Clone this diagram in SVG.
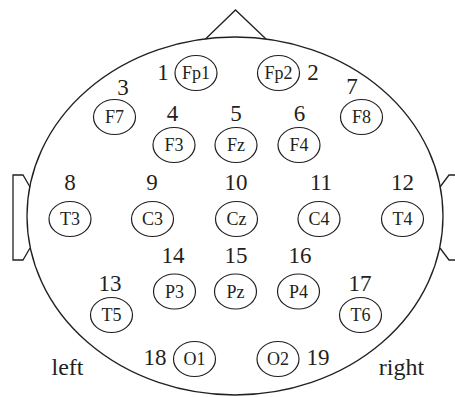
<svg xmlns="http://www.w3.org/2000/svg" width="455" height="397" viewBox="0 0 455 397">
<style>
.ln{fill:none;stroke:#231f20;stroke-width:1.3}
.el{fill:#fff;stroke:#231f20;stroke-width:1.2}
.lb{font-family:"Liberation Serif","Times New Roman",serif;font-size:18px;fill:#231f20;text-anchor:middle}
.nm{font-family:"Liberation Serif","Times New Roman",serif;font-size:23px;fill:#231f20;text-anchor:middle}
.sd{font-family:"Liberation Serif","Times New Roman",serif;font-size:24px;fill:#231f20;text-anchor:middle}
</style>
<rect width="455" height="397" fill="#fff"/>
<g id="head">
<ellipse class="ln" cx="235" cy="216" rx="208" ry="179"/>
<polyline class="ln" points="205.5,39 235.5,10 266,39"/>
<polyline class="ln" points="30,187 23,175 13,175 13,260 23,260 30,248"/>
<polyline class="ln" points="440,187 449,175 459,175 459,260 449,260 440,248"/>
</g>
<g id="Fp1"><ellipse class="el" cx="196" cy="73" rx="21" ry="17.5"/><text class="lb" x="196" y="79">Fp1</text><text class="nm" x="163" y="80">1</text></g>
<g id="Fp2"><ellipse class="el" cx="278.5" cy="73" rx="21" ry="17.5"/><text class="lb" x="278.5" y="79">Fp2</text><text class="nm" x="313" y="80">2</text></g>
<g id="F7"><ellipse class="el" cx="114.5" cy="117" rx="21" ry="17.5"/><text class="lb" x="114.5" y="123">F7</text><text class="nm" x="123" y="95">3</text></g>
<g id="F8"><ellipse class="el" cx="361.5" cy="117" rx="21" ry="17.5"/><text class="lb" x="361.5" y="123">F8</text><text class="nm" x="352" y="94">7</text></g>
<g id="F3"><ellipse class="el" cx="174" cy="145" rx="21" ry="17.5"/><text class="lb" x="174" y="151">F3</text><text class="nm" x="172.5" y="121">4</text></g>
<g id="Fz"><ellipse class="el" cx="236" cy="145" rx="21" ry="17.5"/><text class="lb" x="236" y="151">Fz</text><text class="nm" x="236" y="121">5</text></g>
<g id="F4"><ellipse class="el" cx="299" cy="145" rx="21" ry="17.5"/><text class="lb" x="299" y="151">F4</text><text class="nm" x="299.5" y="121">6</text></g>
<g id="T3"><ellipse class="el" cx="70" cy="219" rx="21" ry="17.5"/><text class="lb" x="70" y="225">T3</text><text class="nm" x="70" y="190">8</text></g>
<g id="C3"><ellipse class="el" cx="152.5" cy="219" rx="21" ry="17.5"/><text class="lb" x="152.5" y="225">C3</text><text class="nm" x="152" y="190">9</text></g>
<g id="Cz"><ellipse class="el" cx="236.5" cy="219" rx="21" ry="17.5"/><text class="lb" x="236.5" y="225">Cz</text><text class="nm" x="236" y="190">10</text></g>
<g id="C4"><ellipse class="el" cx="319" cy="219" rx="21" ry="17.5"/><text class="lb" x="319" y="225">C4</text><text class="nm" x="321" y="190">11</text></g>
<g id="T4"><ellipse class="el" cx="402.5" cy="219" rx="21" ry="17.5"/><text class="lb" x="402.5" y="225">T4</text><text class="nm" x="402.5" y="190">12</text></g>
<g id="P3"><ellipse class="el" cx="174.5" cy="291.5" rx="21" ry="17.5"/><text class="lb" x="174.5" y="297.5">P3</text><text class="nm" x="173" y="263">14</text></g>
<g id="Pz"><ellipse class="el" cx="235.5" cy="291.5" rx="21" ry="17.5"/><text class="lb" x="235.5" y="297.5">Pz</text><text class="nm" x="236" y="263">15</text></g>
<g id="P4"><ellipse class="el" cx="298.5" cy="291.5" rx="21" ry="17.5"/><text class="lb" x="298.5" y="297.5">P4</text><text class="nm" x="300" y="263">16</text></g>
<g id="T5"><ellipse class="el" cx="111.5" cy="315" rx="21" ry="17.5"/><text class="lb" x="111.5" y="321">T5</text><text class="nm" x="110" y="290.5">13</text></g>
<g id="T6"><ellipse class="el" cx="360.5" cy="315" rx="21" ry="17.5"/><text class="lb" x="360.5" y="321">T6</text><text class="nm" x="360" y="290.5">17</text></g>
<g id="O1"><ellipse class="el" cx="194.5" cy="359" rx="21" ry="17.5"/><text class="lb" x="194.5" y="365">O1</text><text class="nm" x="155" y="365">18</text></g>
<g id="O2"><ellipse class="el" cx="278" cy="359" rx="21" ry="17.5"/><text class="lb" x="278" y="365">O2</text><text class="nm" x="318" y="365">19</text></g>
<g id="labels"><text class="sd" x="67.5" y="375">left</text><text class="sd" x="401.5" y="375">right</text></g>
<g id="connectors"></g>
</svg>
